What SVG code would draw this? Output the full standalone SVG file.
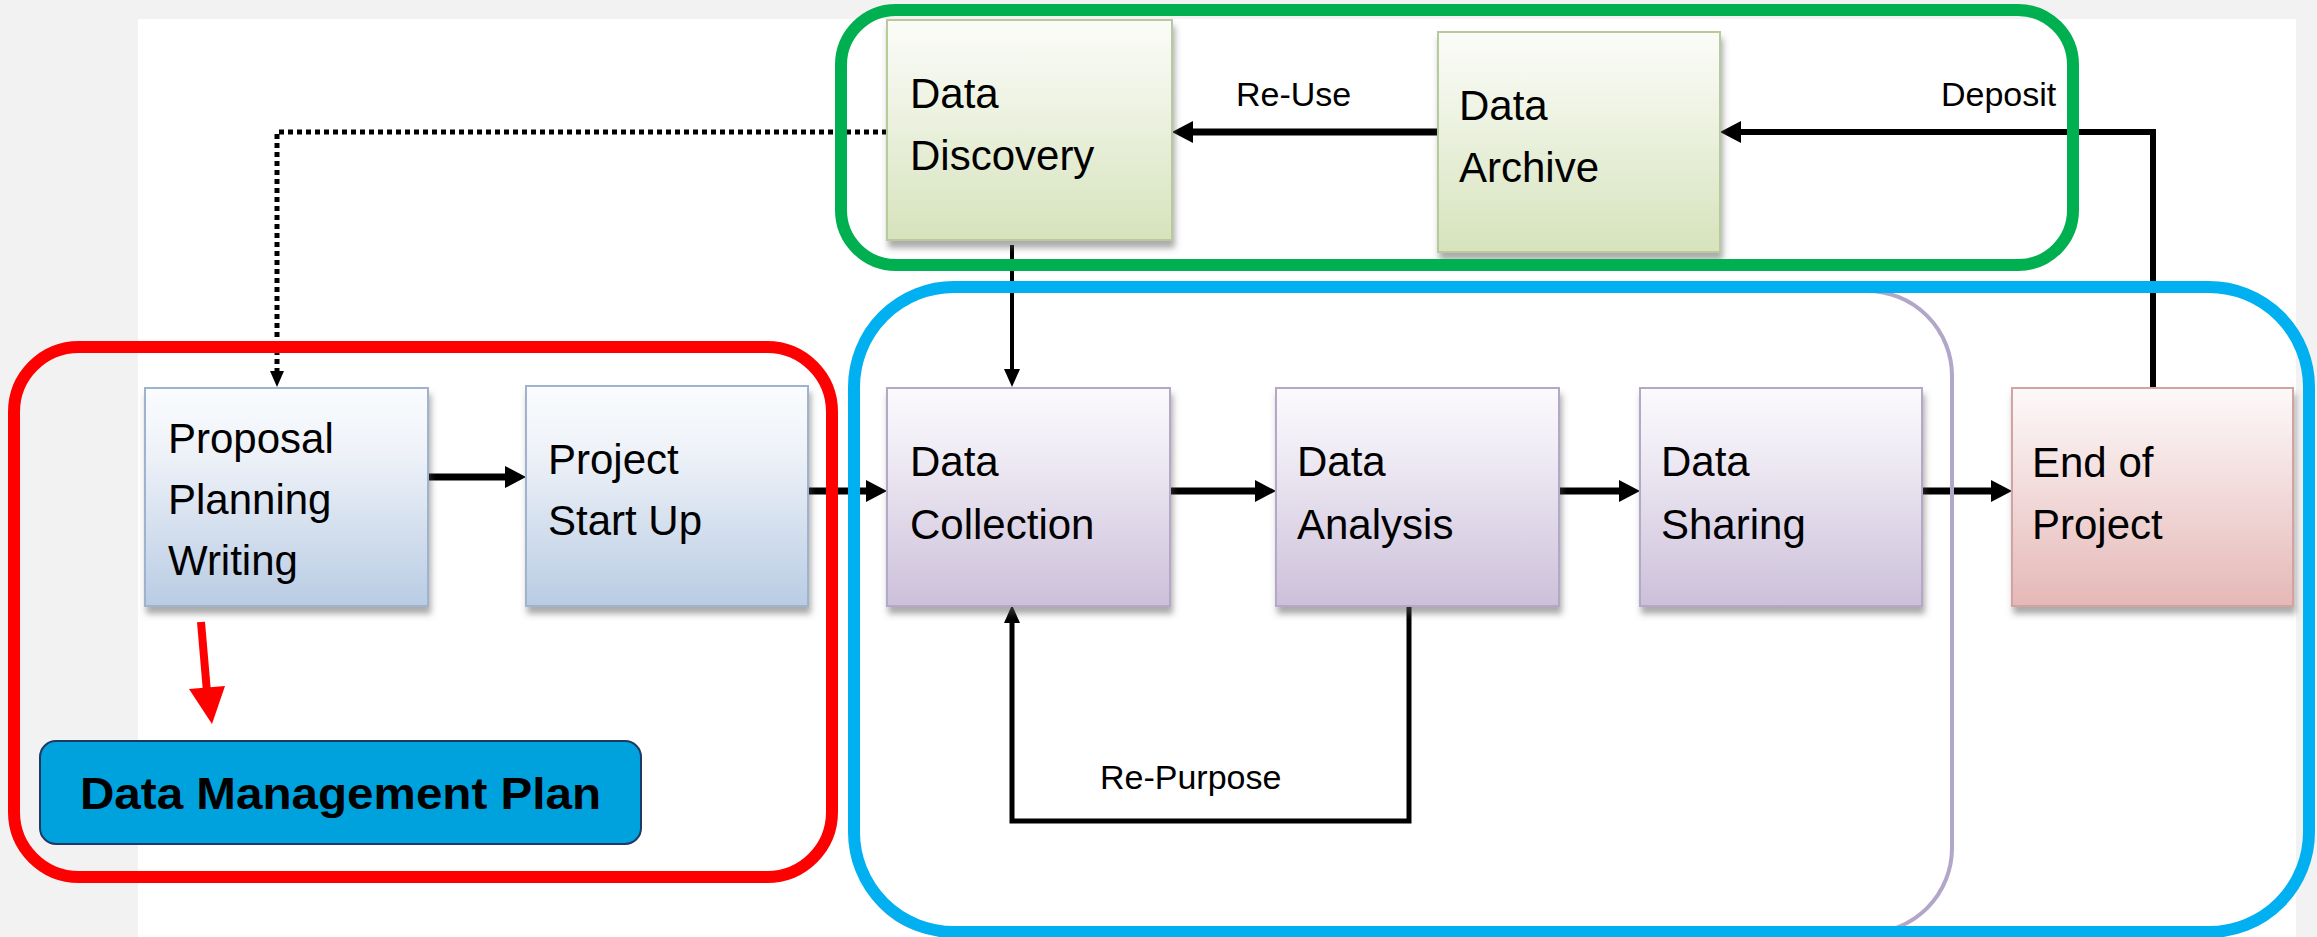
<svg xmlns="http://www.w3.org/2000/svg" width="2317" height="937" viewBox="0 0 2317 937">
<style>
.lbl{font-family:"Liberation Sans",Arial,sans-serif;font-size:42px;fill:#000}
.edge{font-family:"Liberation Sans",Arial,sans-serif;font-size:34px;fill:#000}
.box{stroke-width:2}
.conn{fill:none;stroke:#000;stroke-linejoin:miter}
.frame{fill:none}
</style>
<defs>
<linearGradient id="gBlue" x1="0" y1="0" x2="0" y2="1"><stop offset="0" stop-color="#FAFCFE"/><stop offset="0.3" stop-color="#EEF2F8"/><stop offset="1" stop-color="#B9CCE4"/></linearGradient>
<linearGradient id="gGreen" x1="0" y1="0" x2="0" y2="1"><stop offset="0" stop-color="#FBFCF8"/><stop offset="0.3" stop-color="#F1F5E8"/><stop offset="1" stop-color="#D6E3BC"/></linearGradient>
<linearGradient id="gPurple" x1="0" y1="0" x2="0" y2="1"><stop offset="0" stop-color="#FBFAFD"/><stop offset="0.3" stop-color="#EFEBF4"/><stop offset="1" stop-color="#CCC0DA"/></linearGradient>
<linearGradient id="gRed" x1="0" y1="0" x2="0" y2="1"><stop offset="0" stop-color="#FDF9F9"/><stop offset="0.3" stop-color="#F6E6E6"/><stop offset="1" stop-color="#E5B8B7"/></linearGradient>
<filter id="sh" x="-10%" y="-10%" width="125%" height="130%"><feDropShadow dx="2" dy="7" stdDeviation="3" flood-color="#555" flood-opacity="0.5"/></filter>
<marker id="aMain" markerUnits="userSpaceOnUse" markerWidth="22" markerHeight="24" refX="12" refY="12" orient="auto"><path d="M0,1 L21,12 L0,23 z" fill="#000"/></marker>
<marker id="aThin" markerUnits="userSpaceOnUse" markerWidth="20" markerHeight="20" refX="10" refY="9" orient="auto"><path d="M0,1 L18,9 L0,17 z" fill="#000"/></marker>
<marker id="aDot" markerUnits="userSpaceOnUse" markerWidth="18" markerHeight="18" refX="9" refY="8" orient="auto"><path d="M0,1 L16,8 L0,15 z" fill="#000"/></marker>
</defs>

<rect x="0" y="0" width="2317" height="937" fill="#F2F2F2"/>
<rect x="138" y="19" width="2158" height="918" fill="#FFFFFF"/>

<g id="connectors">
<path class="conn" d="M887,132 H277 V380" stroke-width="5" stroke-dasharray="5 4" marker-end="url(#aDot)"/>
<path class="conn" d="M1438,132 H1181" stroke-width="7" marker-end="url(#aMain)"/>
<path class="conn" d="M2153,387 V132 H1729" stroke-width="6" marker-end="url(#aMain)"/>
<path class="conn" d="M1012,245 V379" stroke-width="4" marker-end="url(#aThin)"/>
<path class="conn" d="M428,477 H517" stroke-width="7" marker-end="url(#aMain)"/>
<path class="conn" d="M808,491 H878" stroke-width="7" marker-end="url(#aMain)"/>
<path class="conn" d="M1170,491 H1267" stroke-width="7" marker-end="url(#aMain)"/>
<path class="conn" d="M1559,491 H1631" stroke-width="7" marker-end="url(#aMain)"/>
<path class="conn" d="M1922,491 H2003" stroke-width="7" marker-end="url(#aMain)"/>
<path class="conn" d="M1409,605 V821 H1012 V613" stroke-width="5" marker-end="url(#aThin)"/>
<g id="red-arrow">
<path d="M201,622 L207,692" fill="none" style="stroke:#FF0000;stroke-width:8"/>
<polygon points="189,689 225,686 212,724" style="fill:#FF0000"/>
</g>
<text class="edge" x="1236" y="106">Re-Use</text>
<text class="edge" x="1941" y="106">Deposit</text>
<text class="edge" x="1100" y="789">Re-Purpose</text>
</g>

<g id="lifecycle-frame">
<rect x="858" y="291" width="1094" height="642" rx="85" fill="none" stroke="#B2A6C9" stroke-width="4"/>
</g>

<g id="node-proposal">
<rect class="box" x="145" y="388" width="283" height="218" fill="url(#gBlue)" stroke="#9FB3CF" filter="url(#sh)"/>
<text class="lbl" x="168" y="453">Proposal</text>
<text class="lbl" x="168" y="514">Planning</text>
<text class="lbl" x="168" y="575">Writing</text>
</g>
<g id="node-startup">
<rect class="box" x="526" y="386" width="282" height="220" fill="url(#gBlue)" stroke="#9FB3CF" filter="url(#sh)"/>
<text class="lbl" x="548" y="474">Project</text>
<text class="lbl" x="548" y="535">Start Up</text>
</g>
<g id="node-discovery">
<rect class="box" x="887" y="20" width="285" height="220" fill="url(#gGreen)" stroke="#B8C99B" filter="url(#sh)"/>
<text class="lbl" x="910" y="108">Data</text>
<text class="lbl" x="910" y="170">Discovery</text>
</g>
<g id="node-archive">
<rect class="box" x="1438" y="32" width="282" height="220" fill="url(#gGreen)" stroke="#B8C99B" filter="url(#sh)"/>
<text class="lbl" x="1459" y="120">Data</text>
<text class="lbl" x="1459" y="182">Archive</text>
</g>
<g id="node-collection">
<rect class="box" x="887" y="388" width="283" height="218" fill="url(#gPurple)" stroke="#B3A8C7" filter="url(#sh)"/>
<text class="lbl" x="910" y="476">Data</text>
<text class="lbl" x="910" y="539">Collection</text>
</g>
<g id="node-analysis">
<rect class="box" x="1276" y="388" width="283" height="218" fill="url(#gPurple)" stroke="#B3A8C7" filter="url(#sh)"/>
<text class="lbl" x="1297" y="476">Data</text>
<text class="lbl" x="1297" y="539">Analysis</text>
</g>
<g id="node-sharing">
<rect class="box" x="1640" y="388" width="282" height="218" fill="url(#gPurple)" stroke="#B3A8C7" filter="url(#sh)"/>
<text class="lbl" x="1661" y="476">Data</text>
<text class="lbl" x="1661" y="539">Sharing</text>
</g>
<g id="node-end">
<rect class="box" x="2012" y="388" width="281" height="218" fill="url(#gRed)" stroke="#D3A3A2" filter="url(#sh)"/>
<text class="lbl" x="2032" y="477">End of</text>
<text class="lbl" x="2032" y="539">Project</text>
</g>
<g id="node-dmp">
<rect x="40" y="741" width="601" height="103" rx="16" fill="#00A2DE" stroke="#1F3864" stroke-width="2"/>
<text x="80" y="809" font-family="'Liberation Sans',Arial,sans-serif" font-size="45" font-weight="bold" fill="#000" textLength="521" lengthAdjust="spacingAndGlyphs">Data Management Plan</text>
</g>

<g id="frame-red"><rect class="frame" x="14" y="347" width="818" height="530" rx="65" stroke="#FF0000" stroke-width="12"/></g>
<g id="frame-green"><rect class="frame" x="841" y="10" width="1232" height="255" rx="55" stroke="#00B050" stroke-width="12"/></g>
<g id="frame-blue"><rect class="frame" x="854" y="287" width="1455" height="645" rx="100" stroke="#00B0F0" stroke-width="12"/></g>
</svg>
